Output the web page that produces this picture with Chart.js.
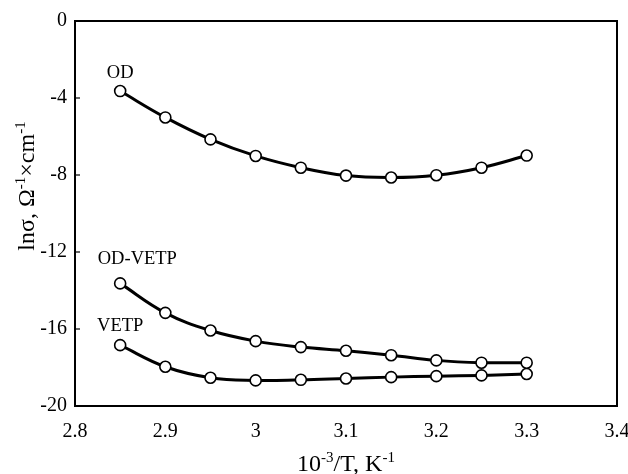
<!DOCTYPE html>
<html><head><meta charset="utf-8">
<script src="https://cdn.jsdelivr.net/npm/chart.js@4/dist/chart.umd.min.js"></script>
<style>html,body{margin:0;padding:0;background:#fff;}canvas{display:block;}</style>
</head><body>
<canvas id="c" width="628" height="474"></canvas>
<script>
const xValues = [2.85, 2.9, 2.95, 3.0, 3.05, 3.1, 3.15, 3.2, 3.25, 3.3];
const odValues = [-3.64, -5.01, -6.15, -7.01, -7.62, -8.03, -8.13, -8.01, -7.62, -6.99];
const odVetpValues = [-13.63, -15.16, -16.08, -16.63, -16.94, -17.13, -17.36, -17.63, -17.75, -17.75];
const vetpValues = [-16.84, -17.96, -18.53, -18.67, -18.64, -18.57, -18.50, -18.45, -18.41, -18.34];
const seriesNames = ['OD', 'OD-VETP', 'VETP'];
const labelAnchors = [[2.85, -2.7], [2.869, -12.36], [2.85, -15.84]];
const xTicks = [2.8, 2.9, 3.0, 3.1, 3.2, 3.3, 3.4];
const yTicks = [0, -4, -8, -12, -16, -20];

const serif = "'Liberation Serif', 'Times New Roman', serif";
function mk(name, vals) {
  return {
    label: name,
    data: xValues.map((x, i) => ({x: x, y: vals[i]})),
    borderColor: '#000', borderWidth: 3, tension: 0.4,
    pointRadius: 5.5, pointBackgroundColor: '#fff', pointBorderColor: '#000', pointBorderWidth: 1.6,
    fill: false
  };
}

const decor = {
  id: 'decor',
  afterDraw(chart) {
    const ctx = chart.ctx, a = chart.chartArea, xs = chart.scales.x, ys = chart.scales.y;
    ctx.save();
    ctx.strokeStyle = '#000'; ctx.lineWidth = 2;
    ctx.strokeRect(a.left, a.top, a.right - a.left, a.bottom - a.top);
    ctx.lineWidth = 1.2;
    yTicks.forEach(v => {
      const py = ys.getPixelForValue(v);
      ctx.beginPath(); ctx.moveTo(a.left, py); ctx.lineTo(a.left + 5, py); ctx.stroke();
    });
    ctx.fillStyle = '#000';
    ctx.font = "18.5px " + serif;
    ctx.textAlign = 'center'; ctx.textBaseline = 'middle';
    seriesNames.forEach((n, i) => {
      ctx.fillText(n, xs.getPixelForValue(labelAnchors[i][0]), ys.getPixelForValue(labelAnchors[i][1]));
    });
    function drawRich(parts, cx, cy) {
      let total = 0;
      parts.forEach(p => { ctx.font = (p[1] ? "15px " : "24px ") + serif; total += ctx.measureText(p[0]).width; });
      let x = cx - total / 2;
      ctx.textAlign = 'left'; ctx.textBaseline = 'alphabetic';
      parts.forEach(p => {
        ctx.font = (p[1] ? "15px " : "24px ") + serif;
        ctx.fillText(p[0], x, cy + (p[1] ? -9 : 0));
        x += ctx.measureText(p[0]).width;
      });
    }
    drawRich([['10', 0], ['-3', 1], ['/T, K', 0], ['-1', 1]], (a.left + a.right) / 2, 471);
    ctx.save();
    ctx.translate(34, 186);
    ctx.rotate(-Math.PI / 2);
    drawRich([['ln\u03c3, \u03a9', 0], ['-1', 1], ['\u00d7cm', 0], ['-1', 1]], 0, 0);
    ctx.restore();
    ctx.restore();
  }
};

new Chart(document.getElementById('c'), {
  type: 'line',
  data: { datasets: [mk(seriesNames[0], odValues), mk(seriesNames[1], odVetpValues), mk(seriesNames[2], vetpValues)] },
  options: {
    responsive: false, animation: false,
    layout: { padding: { top: 21, right: 11, left: 0, bottom: 0 } },
    plugins: { legend: { display: false }, tooltip: { enabled: false } },
    scales: {
      x: {
        type: 'linear', min: 2.8, max: 3.4,
        afterBuildTicks(s) { s.ticks = xTicks.map(v => ({value: v})); },
        afterFit(s) { s.height = 68; s.paddingLeft = 0; s.paddingRight = 0; },
        grid: { display: false, drawTicks: false },
        border: { display: false },
        ticks: { color: '#000', font: { family: serif, size: 20 }, padding: 14, maxRotation: 0,
                 callback: v => String(Math.round(v * 10) / 10) }
      },
      y: {
        type: 'linear', min: -20, max: 0,
        afterBuildTicks(s) { s.ticks = yTicks.map(v => ({value: v})); },
        afterFit(s) { s.width = 75; s.paddingTop = 0; s.paddingBottom = 0; },
        grid: { display: false, drawTicks: false },
        border: { display: false },
        ticks: { color: '#000', font: { family: serif, size: 20 }, padding: 8 }
      }
    }
  },
  plugins: [decor]
});
</script>
</body></html>
